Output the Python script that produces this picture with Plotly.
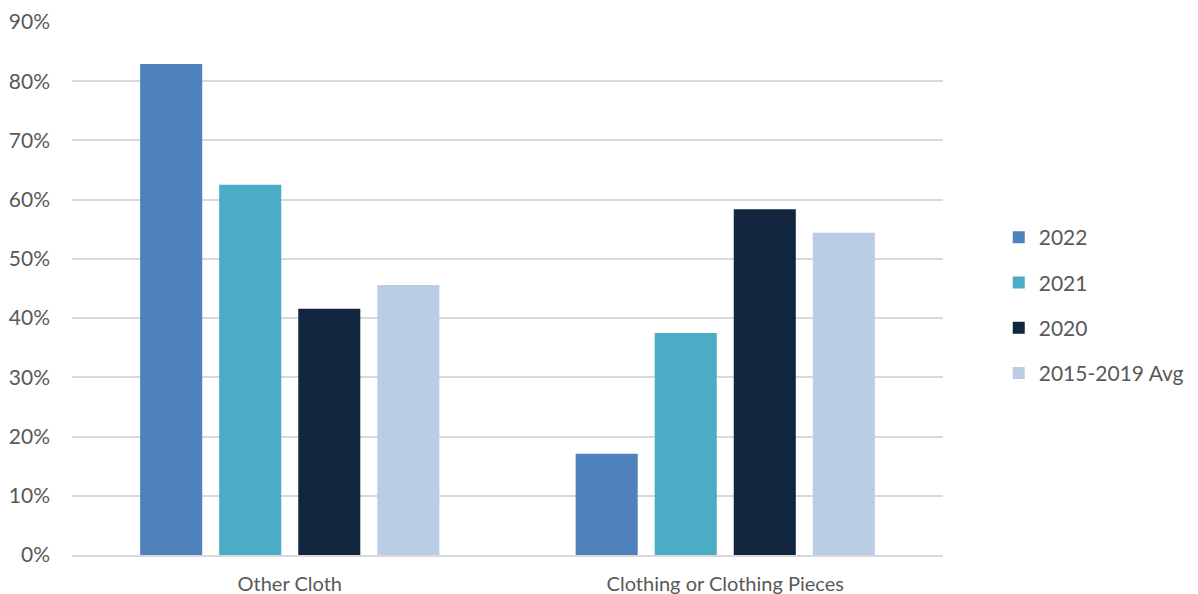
import plotly.graph_objects as go

categories = ["Other Cloth", "Clothing or Clothing Pieces"]
series_names = ["2022", "2021", "2020", "2015-2019 Avg"]
values_2022 = [0.829, 0.171]
values_2021 = [0.625, 0.375]
values_2020 = [0.416, 0.584]
values_avg = [0.456, 0.544]
colors = ["#4F81BD", "#4BACC6", "#12263F", "#B9CDE5"]
y_ticks = [0, 0.1, 0.2, 0.3, 0.4, 0.5, 0.6, 0.7, 0.8, 0.9]

all_values = [values_2022, values_2021, values_2020, values_avg]

fig = go.Figure()
for i, (name, vals) in enumerate(zip(series_names, all_values)):
    fig.add_trace(go.Bar(
        x=categories, y=vals, name=name,
        marker=dict(color=colors[i], line=dict(width=0)),
        legendgroup=f"g{i}",
    ))

# page body has an 8px default margin; the figure is sized to fit the window
fig.update_layout(
    width=1190, height=586,
    margin=dict(l=64, r=255, t=14, b=39, autoexpand=False),
    paper_bgcolor="white", plot_bgcolor="white",
    barmode="group", bargap=0.274, bargroupgap=0.215,
    font=dict(family="Lato, Noto Sans, sans-serif", color="#595959", size=21),
    legend=dict(
        x=1.064, y=0.468, xanchor="left", yanchor="middle",
        font=dict(size=21, color="#595959"),
        tracegroupgap=15, traceorder="grouped",
        itemwidth=30,
    ),
    xaxis=dict(
        automargin=False,
        showline=True, linecolor="#D9D9D9", linewidth=1.5,
        ticks="", tickfont=dict(size=20, color="#595959"),
        ticklabelstandoff=10,
    ),
    yaxis=dict(
        automargin=False,
        range=[0, 0.9], tickvals=y_ticks, tickformat=".0%",
        showgrid=True, gridcolor="#D9D9D9", gridwidth=1.5,
        zeroline=False, ticks="", ticklen=0,
        tickfont=dict(size=21, color="#595959"),
        ticklabelstandoff=21,
    ),
)

fig.write_html("out.html")
